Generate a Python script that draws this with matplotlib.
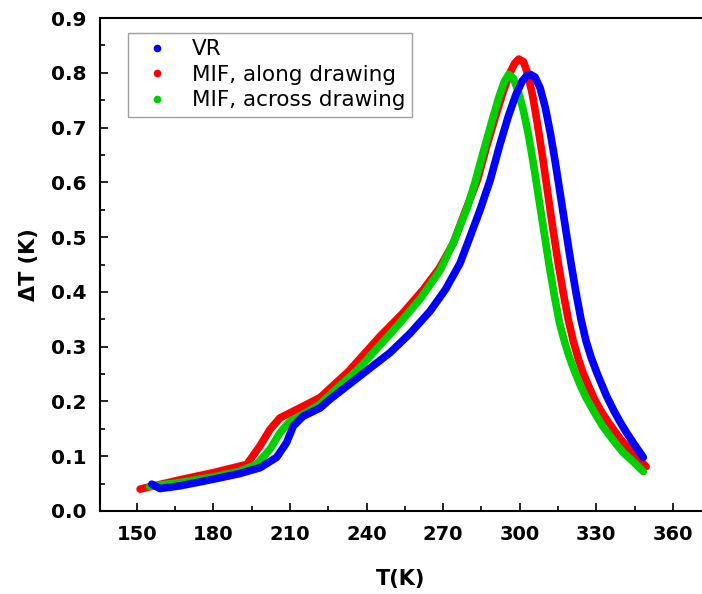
import matplotlib
matplotlib.use("Agg")
import matplotlib.pyplot as plt
from matplotlib.lines import Line2D

# ---- data ----
T_vr = [155.9, 159.1, 167, 180, 190, 198.3, 204.8, 208.7, 211.3, 215.2, 221.8, 225.7, 237,
        249.2, 257, 264.9, 271, 276.6, 280.5, 284.5, 288.5, 292, 295.5, 298.5, 301, 302.8, 304.2,
        306, 308, 310, 312, 314, 316, 318, 320, 322, 324, 326, 328, 330, 331.5, 334, 337, 339.5,
        342, 344.7, 348.4]
dT_vr = [0.049, 0.041, 0.046, 0.058, 0.068, 0.079, 0.098, 0.125, 0.155, 0.173, 0.188, 0.204, 0.245,
         0.289, 0.324, 0.365, 0.405, 0.452, 0.50, 0.55, 0.605, 0.665, 0.72, 0.76, 0.785, 0.795, 0.797,
         0.792, 0.772, 0.737, 0.69, 0.635, 0.575, 0.515, 0.455, 0.40, 0.35, 0.31, 0.28, 0.255, 0.238,
         0.21, 0.182, 0.161, 0.142, 0.123, 0.098]

T_r = [151.3, 167, 180, 193.1, 198.3, 202.2, 206.1, 210, 221.8, 233, 245.3, 254, 262.2, 268.5,
       274, 278.5, 283.5, 287, 290.5, 293.5, 296, 298, 299.6, 301.5, 303, 305, 307, 309, 311, 313,
       315, 317, 319, 321, 323, 325, 327, 329, 331.5, 335, 339.5, 343, 346, 349.5]
dT_r = [0.04, 0.057, 0.07, 0.085, 0.119, 0.149, 0.17, 0.179, 0.207, 0.255, 0.319, 0.36, 0.404, 0.443,
        0.489, 0.545, 0.605, 0.665, 0.72, 0.765, 0.798, 0.817, 0.825, 0.82, 0.80, 0.76, 0.705, 0.645,
        0.58, 0.515, 0.455, 0.40, 0.35, 0.31, 0.277, 0.25, 0.228, 0.207, 0.185, 0.16, 0.131, 0.113,
        0.098, 0.081]

T_g = [155, 167, 180, 190, 197, 202.2, 206.1, 210, 213.9, 221.8, 224.5, 237, 251.9, 261, 268.9,
       274, 279.4, 282.3, 286, 289.5, 292, 294, 295.7, 297.5, 299.5, 301.5, 303.5, 305.5, 307.5,
       309.5, 311.5, 313.5, 315.5, 317.5, 319.5, 321.5, 323.5, 326, 329, 332.5, 336.8, 340.5,
       344.7, 348.4]
dT_g = [0.045, 0.052, 0.062, 0.072, 0.085, 0.113, 0.143, 0.164, 0.173, 0.195, 0.207, 0.26, 0.337,
        0.387, 0.44, 0.49, 0.553, 0.597, 0.66, 0.718, 0.758, 0.784, 0.797, 0.79, 0.765, 0.73, 0.685,
        0.63, 0.57, 0.51, 0.45, 0.395, 0.345, 0.31, 0.28, 0.255, 0.232, 0.207, 0.182, 0.155, 0.128,
        0.107, 0.089, 0.072]

labels = ["VR", "MIF, along drawing", "MIF, across drawing"]
colors = ["#0000ff", "#ff0000", "#00d000"]
x_ticks = [150, 180, 210, 240, 270, 300, 330, 360]
y_ticks = [0.0, 0.1, 0.2, 0.3, 0.4, 0.5, 0.6, 0.7, 0.8, 0.9]

plt.rcParams['font.family'] = ['DejaVu Sans']

fig = plt.figure(figsize=(7.02, 5.94), dpi=100)
ax = fig.add_axes([100/702, (594-511)/594, 1 - 100/702, (511-18)/594])

series = [(T_vr, dT_vr), (T_r, dT_r), (T_g, dT_g)]
for i in [1, 2, 0]:
    T, d = series[i]
    ax.plot(T, d, color=colors[i], lw=5.5, solid_capstyle='round', solid_joinstyle='round')

ax.set_xlim(135.6, 371.4)
ax.set_ylim(0, 0.9)
ax.set_xticks(x_ticks)
ax.set_xticklabels([str(v) for v in x_ticks])
ax.set_yticks(y_ticks)
ax.set_yticklabels([f"{v:.1f}" for v in y_ticks])
ax.set_xticks([165, 195, 225, 255, 285, 315, 345], minor=True)
ax.set_yticks([0.05 + 0.1*k for k in range(9)], minor=True)
ax.tick_params(axis='x', which='major', direction='in', length=6, width=1.2, labelsize=14, pad=10)
ax.tick_params(axis='y', which='major', direction='in', length=6, width=1.2, labelsize=14.5, pad=10)
ax.tick_params(which='minor', direction='in', length=3.5, width=1.2)
for lab in ax.get_xticklabels() + ax.get_yticklabels():
    lab.set_fontweight('bold')
for s in ['left', 'bottom', 'top']:
    ax.spines[s].set_linewidth(1.5)
ax.spines['right'].set_visible(False)

ax.set_xlabel("T(K)", fontsize=15, fontweight='bold', labelpad=18)
ax.set_ylabel("ΔT (K)", fontsize=15, fontweight='bold', labelpad=8)

handles = [Line2D([], [], ls='none', marker='o', ms=4.5, color=c) for c in colors]
leg = ax.legend(handles, labels, loc='upper left', bbox_to_anchor=(28/602, 1 - 15/493),
                fontsize=15.5, frameon=True, fancybox=False, edgecolor='#888888',
                handlelength=2.09, handletextpad=0.58, labelspacing=0.25, borderpad=0.3,
                borderaxespad=0)
leg.get_frame().set_linewidth(1.0)

fig.savefig("out.png", dpi=100)
